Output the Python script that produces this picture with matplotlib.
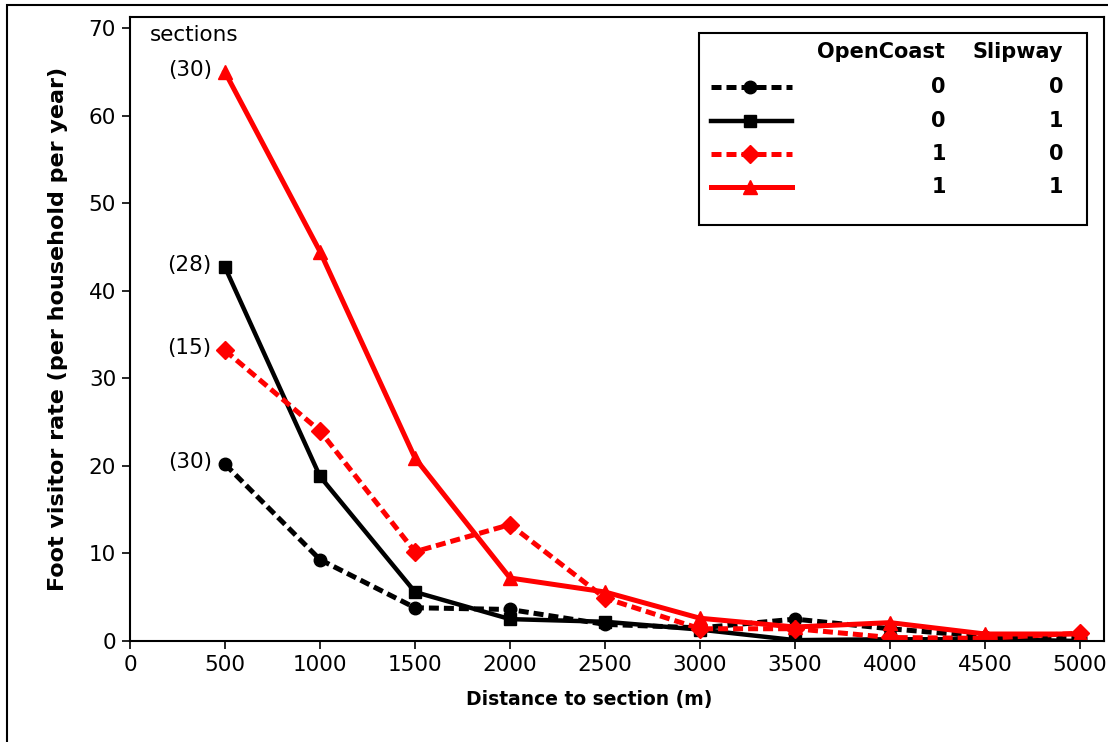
import matplotlib
matplotlib.use("Agg")
import matplotlib.pyplot as plt
from matplotlib.lines import Line2D
from matplotlib.patches import Rectangle

plt.rcParams["font.family"] = ["DejaVu Sans"]

distance = [500, 1000, 1500, 2000, 2500, 3000, 3500, 4000, 4500, 5000]
rate_oc0_sw0 = [20.2, 9.3, 3.8, 3.6, 1.9, 1.5, 2.5, 1.4, 0.5, 0.3]
rate_oc0_sw1 = [42.7, 18.8, 5.6, 2.5, 2.2, 1.3, 0.1, 0.2, 0.2, 0.0]
rate_oc1_sw0 = [33.2, 24.0, 10.2, 13.3, 4.9, 1.4, 1.4, 0.4, 0.3, 0.9]
rate_oc1_sw1 = [65.0, 44.5, 20.9, 7.2, 5.6, 2.6, 1.6, 2.1, 0.8, 0.8]

section_counts = ["(30)", "(28)", "(15)", "(30)"]
section_values = [rate_oc1_sw1[0], rate_oc0_sw1[0], rate_oc1_sw0[0], rate_oc0_sw0[0]]

legend_oc = ["0", "0", "1", "1"]
legend_sw = ["0", "1", "0", "1"]

W, H = 1108, 742
fig = plt.figure(figsize=(W / 100, H / 100), dpi=100)
ax = fig.add_axes([130 / W, 1 - 641 / H, (1104 - 130) / W, (641 - 17) / H])

styles = [
    dict(color="black", ls=(0, (2.0, 1.0)), marker="o", ms=9, lw=3.6),
    dict(color="black", ls="-", marker="s", ms=9, lw=3.2),
    dict(color="red", ls=(0, (2.0, 1.0)), marker="D", ms=9, lw=3.6),
    dict(color="red", ls="-", marker="^", ms=10, lw=3.6),
]
series = [rate_oc0_sw0, rate_oc0_sw1, rate_oc1_sw0, rate_oc1_sw1]
for vals, st in zip(series, styles):
    ax.plot(distance, vals, color=st["color"], linestyle=st["ls"], linewidth=st["lw"],
            marker=st["marker"], markersize=st["ms"], markeredgecolor=st["color"],
            markerfacecolor=st["color"])

ax.set_xlim(0, 5126)
ax.set_ylim(0, 71.3)
ax.set_xticks(range(0, 5001, 500))
ax.set_yticks(range(0, 71, 10))
ax.tick_params(direction="out", length=6, width=1.2, labelsize=15.5, pad=4)
for sp in ax.spines.values():
    sp.set_linewidth(1.5)

ax.set_xlabel("Distance to section (m)", fontsize=13.5, fontweight="bold")
ax.set_ylabel("Foot visitor rate (per household per year)", fontsize=16, fontweight="bold")
ax.xaxis.set_label_coords(0.471, -0.079)
ax.yaxis.set_label_coords(-0.064, 0.5)

for lab, v in zip(section_counts, section_values):
    ax.text(430, v + 0.3, lab, ha="right", va="center", fontsize=15.5)
ax.text(105, 69.2, "sections", ha="left", va="center", fontsize=15.5)

# legend table drawn in figure pixel space
def fx(px):
    return px / W

def fy(py):
    return 1 - py / H

fig.add_artist(Rectangle((fx(699), fy(225)), fx(1087) - fx(699), fy(33) - fy(225),
                         transform=fig.transFigure, facecolor="white", edgecolor="black",
                         linewidth=1.5))
fig.text(fx(945), fy(52), "OpenCoast", ha="right", va="center", fontsize=15, fontweight="bold")
fig.text(fx(1063), fy(52), "Slipway", ha="right", va="center", fontsize=15, fontweight="bold")
rows_y = [87, 121, 154, 187]
for ry, st, oc, sw in zip(rows_y, styles, legend_oc, legend_sw):
    fig.add_artist(Line2D([fx(711), fx(792)], [fy(ry), fy(ry)], transform=fig.transFigure,
                          color=st["color"], linestyle=st["ls"], linewidth=st["lw"]))
    fig.add_artist(Line2D([fx(750)], [fy(ry)], transform=fig.transFigure, color=st["color"],
                          marker=st["marker"], markersize=st["ms"], linestyle="none"))
    fig.text(fx(946), fy(ry), oc, ha="right", va="center", fontsize=15, fontweight="bold")
    fig.text(fx(1063), fy(ry), sw, ha="right", va="center", fontsize=15, fontweight="bold")

# outer frame
fig.add_artist(Rectangle((fx(7), -0.05), 1.1, fy(5) + 0.05, transform=fig.transFigure,
                         facecolor="none", edgecolor="black", linewidth=1.5))

fig.savefig("out.png", dpi=100)
